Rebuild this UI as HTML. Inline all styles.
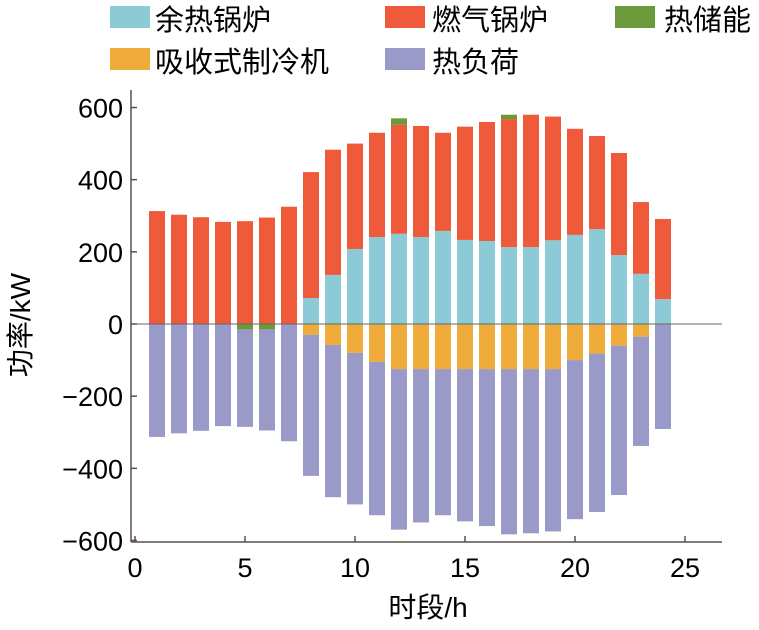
<!DOCTYPE html>
<html><head><meta charset="utf-8"><style>
body{margin:0;background:#fff}
svg{display:block;font-family:"Liberation Sans","Noto Sans CJK SC",sans-serif}
</style></head><body>
<svg id="chart" width="759" height="630">
<g id="legend">
 <g><rect x="110" y="6" width="40" height="22" fill="#8ccbd6"/><text x="155" y="30" font-size="29">余热锅炉</text></g>
 <g><rect x="385" y="6" width="40" height="22" fill="#ee5a3a"/><text x="432" y="30" font-size="29">燃气锅炉</text></g>
 <g><rect x="615" y="6" width="40" height="22" fill="#6a9a3a"/><text x="664" y="30" font-size="29">热储能</text></g>
 <g><rect x="110" y="48" width="40" height="22" fill="#f0ac3a"/><text x="155" y="72" font-size="29">吸收式制冷机</text></g>
 <g><rect x="385" y="48" width="40" height="22" fill="#9a9ac8"/><text x="432" y="72" font-size="29">热负荷</text></g>
</g>
<g id="bars"></g>
<g id="axes"></g>
<text x="30" y="325" font-size="28" text-anchor="middle" transform="rotate(-90 30 325)">功率/kW</text>
<text x="428" y="617" font-size="28" text-anchor="middle">时段/h</text>
</svg>
<script>
const hours=[1,2,3,4,5,6,7,8,9,10,11,12,13,14,15,16,17,18,19,20,21,22,23,24];
const wasteHeat=[0,0,0,0,0,0,0,72,136,208,241,250,241,258,233,230,213,213,232,247,263,191,139,69];
const gasBoiler=[313,303,296,283,285,295,325,349,347,292,289,302,308,272,314,330,355,367,343,294,258,283,199,222];
const storagePos=[0,0,0,0,0,0,0,0,0,0,0,18,0,0,0,0,12,0,0,0,0,0,0,0];
const storageNeg=[0,0,0,0,15,15,0,0,0,0,0,0,0,0,0,0,0,0,0,0,0,0,0,0];
const absorption=[0,0,0,0,0,0,0,30,58,80,105,125,125,125,125,125,125,125,125,100,82,60,35,0];
const heatLoad=[313,303,296,283,270,280,325,391,422,420,425,445,425,405,422,435,458,455,450,441,439,414,303,291];
const xTicks=[0,5,10,15,20,25];
const yTicks=[-600,-400,-200,0,200,400,600];
const X=v=>135+v*22.0, Y=v=>324-v*0.3608;
const NS='http://www.w3.org/2000/svg';
const bars=document.getElementById('bars'), axes=document.getElementById('axes');
function rect(g,x,y,w,h,fill,name){const r=document.createElementNS(NS,'rect');r.setAttribute('x',x);r.setAttribute('y',y);r.setAttribute('width',w);r.setAttribute('height',Math.max(0,h));r.setAttribute('fill',fill);


g.appendChild(r);}
const bw=16;
hours.forEach((h,i)=>{
 const x=X(h)-bw/2;
 let p=0;
 [[wasteHeat[i],'#8ccbd6','bar-waste-heat'],[gasBoiler[i],'#ee5a3a','bar-gas-boiler'],[storagePos[i],'#6a9a3a','bar-storage']].forEach(([v,c,n])=>{if(v>0){rect(bars,x,Y(p+v),bw,Y(p)-Y(p+v),c,n);p+=v;}});
 let q=0;
 [[storageNeg[i],'#6a9a3a','bar-storage'],[absorption[i],'#f0ac3a','bar-absorption'],[heatLoad[i],'#9a9ac8','bar-heat-load']].forEach(([v,c,n])=>{if(v>0){rect(bars,x,Y(q),bw,Y(q-v)-Y(q),c,n);q-=v;}});
});
function line(x1,y1,x2,y2,c,w,name){const l=document.createElementNS(NS,'line');l.setAttribute('x1',x1);l.setAttribute('y1',y1);l.setAttribute('x2',x2);l.setAttribute('y2',y2);l.setAttribute('stroke',c);l.setAttribute('stroke-width',w);


axes.appendChild(l);}
function text(x,y,s,anchor,name){const t=document.createElementNS(NS,'text');t.setAttribute('x',x);t.setAttribute('y',y);t.setAttribute('font-size','27');t.setAttribute('text-anchor',anchor);t.textContent=s;


axes.appendChild(t);}
line(X(0)-4,Y(0),722,Y(0),'#666',1,'zero-line');
line(131,90,131,542,'#5a504c',1.5,'y-axis-line');
line(131,542,722,542,'#5a504c',1.5,'x-axis-line');
xTicks.forEach(v=>{line(X(v),542,X(v),536,'#5a504c',1.5,'x-tick');text(X(v),577,String(v),'middle','x-tick-label');});
yTicks.forEach(v=>{line(131,Y(v),137,Y(v),'#5a504c',1.5,'y-tick');text(123,Y(v)+10,(v<0?'\u2212'+(-v):String(v)),'end','y-tick-label');});
</script>
</body></html>
